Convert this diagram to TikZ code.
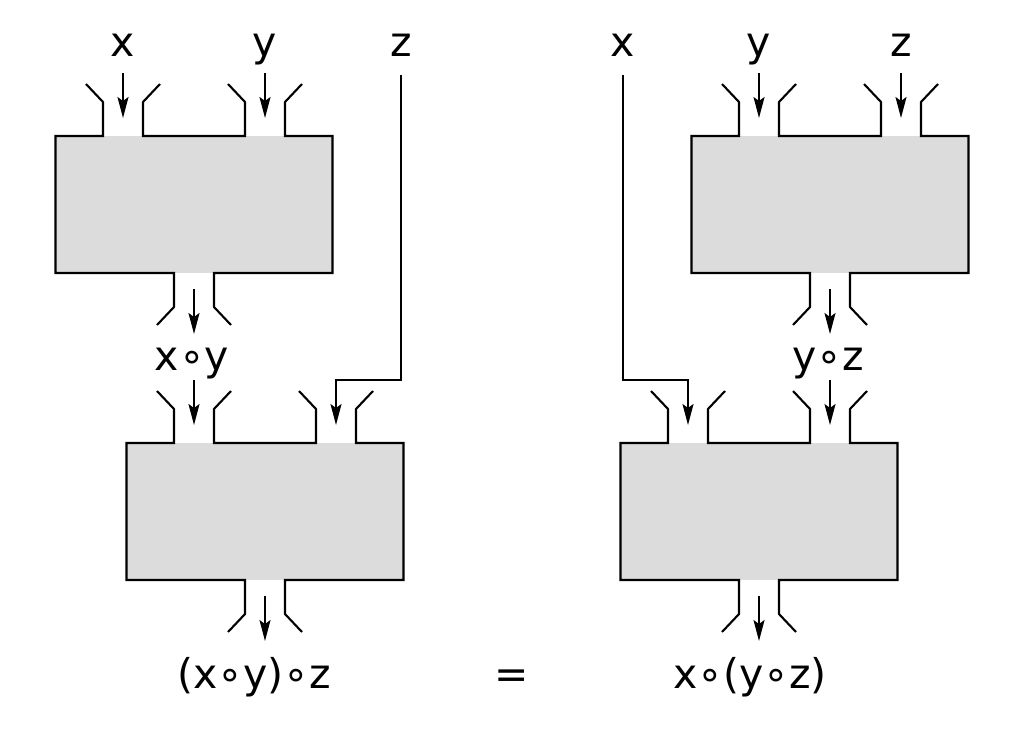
\documentclass[tikz,border=0pt]{standalone}
\usepackage{fontspec}
\setmainfont{DejaVu Sans}
\usetikzlibrary{arrows.meta}
\definecolor{boxgray}{RGB}{220,220,220}
\tikzset{
  wire/.style={line width=2.1pt, line join=miter},
  arr/.style={line width=2.0pt, -{Stealth[length=21pt,width=11pt,inset=4pt]}},
  lbl/.style={anchor=base, inner sep=0pt, font=\fontsize{41}{48}\selectfont},
  boxnode/.style={draw=none, fill=boxgray, minimum width=277pt, minimum height=137pt, inner sep=0pt},
  machine/.pic={
    \node[boxnode] (-box) at (0,0) {};
    \draw[wire] (-108,-120.5) -- (-91,-102.5) -- (-91,-68.5) -- (-138.5,-68.5) -- (-138.5,68.5)
                -- (-20,68.5) -- (-20,102.5) -- (-37,120.5);
    \draw[wire] (-34,-120.5) -- (-51,-102.5) -- (-51,-68.5) -- (51,-68.5) -- (51,-102.5) -- (34,-120.5);
    \draw[wire] (108,-120.5) -- (91,-102.5) -- (91,-68.5) -- (138.5,-68.5) -- (138.5,68.5)
                -- (20,68.5) -- (20,102.5) -- (37,120.5);
    \coordinate (-in1s) at (-71,-131.5);
    \coordinate (-in1e) at (-71,-86.5);
    \coordinate (-in2s) at (71,-131.5);
    \coordinate (-in2e) at (71,-86.5);
    \coordinate (-outs) at (0,84.5);
    \coordinate (-oute) at (0,129.5);
  }
}
\begin{document}
\begin{tikzpicture}[x=1pt,y=-1pt]
  \useasboundingbox (0,0) rectangle (1024,745);
  % left side
  \pic (A) at (194,204.5) {machine};
  \pic (B) at (265,511.5) {machine};
  % right side
  \pic (C) at (830,204.5) {machine};
  \pic (D) at (759,511.5) {machine};

  % labels left
  \node[lbl] (lx1) at (123,56) {x};
  \node[lbl] (ly1) at (265,56) {y};
  \node[lbl] (lz1) at (401,56) {z};
  \node[lbl] (lxy) at (192,370) {x∘y};
  \node[lbl] (lres1) at (254,688) {(x∘y)∘z};
  % labels right
  \node[lbl] (lx2) at (623,56) {x};
  \node[lbl] (ly2) at (759,56) {y};
  \node[lbl] (lz2) at (901,56) {z};
  \node[lbl] (lyz) at (828,370) {y∘z};
  \node[lbl] (lres2) at (750,688) {x∘(y∘z)};
  \node[lbl] (eq) at (512,688) {=};

  % arrows through the funnels
  \draw[arr] (A-in1s) -- (A-in1e);
  \draw[arr] (A-in2s) -- (A-in2e);
  \draw[arr] (A-outs) -- (A-oute);
  \draw[arr] (B-in1s) -- (B-in1e);
  \draw[arr] (B-outs) -- (B-oute);
  \draw[arr] (C-in1s) -- (C-in1e);
  \draw[arr] (C-in2s) -- (C-in2e);
  \draw[arr] (C-outs) -- (C-oute);
  \draw[arr] (D-in2s) -- (D-in2e);
  \draw[arr] (D-outs) -- (D-oute);

  % bypass wires
  \coordinate (ztop) at (401,75);
  \coordinate (zbend) at (401,380);
  \draw[arr] (ztop) -- (zbend) -| (B-in2e);
  \coordinate (xtop) at (623,75);
  \coordinate (xbend) at (623,380);
  \draw[arr] (xtop) -- (xbend) -| (D-in1e);
\end{tikzpicture}
\end{document}
